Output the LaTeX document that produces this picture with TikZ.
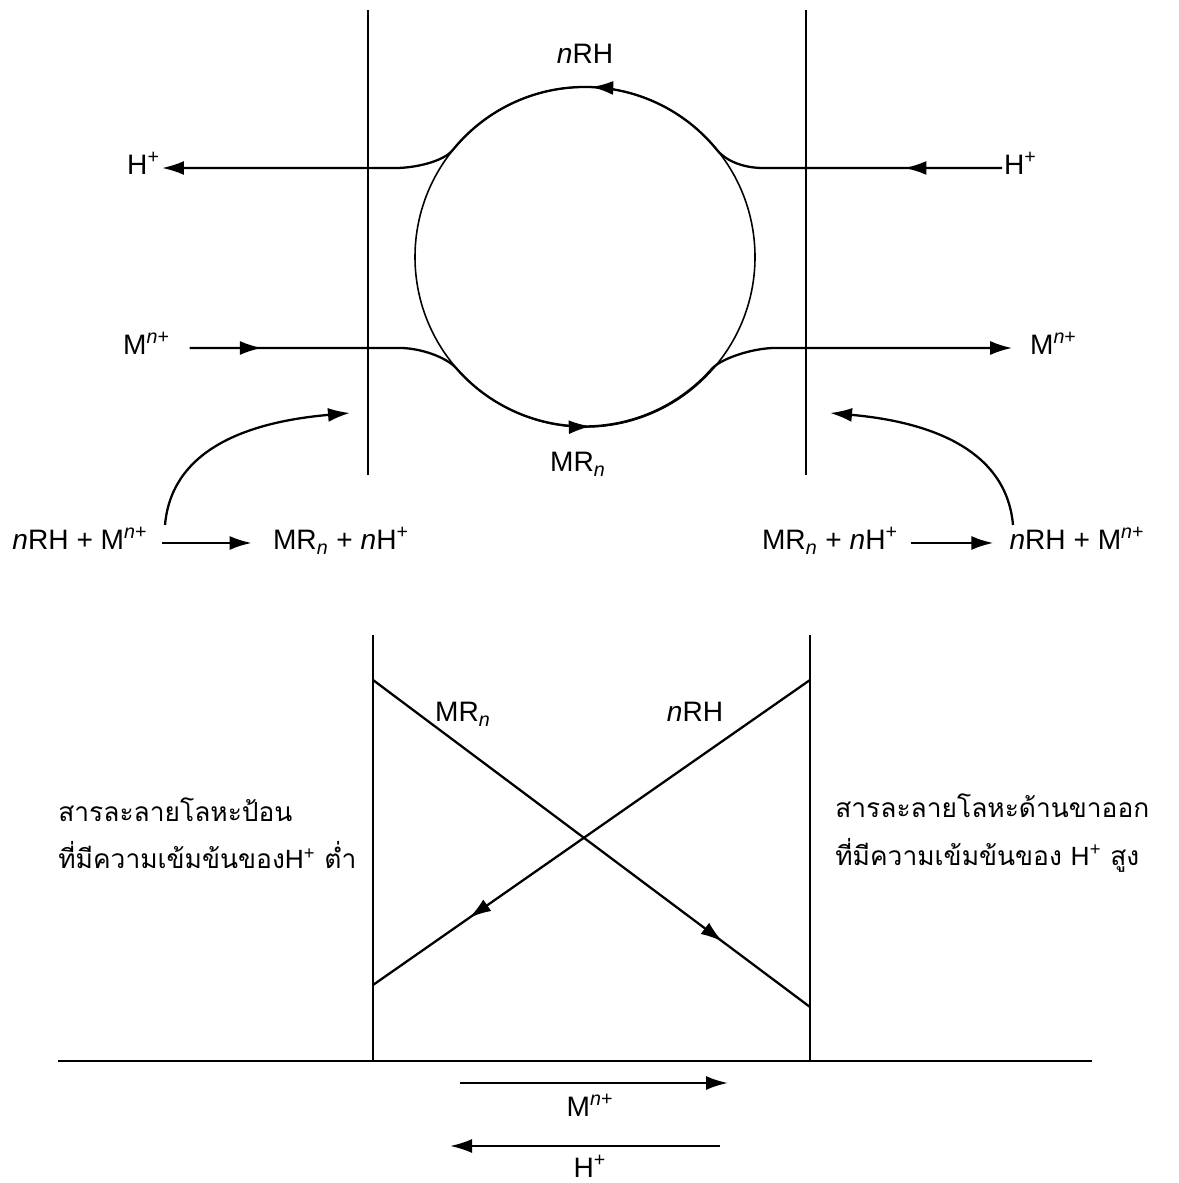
\documentclass[tikz,border=0pt]{standalone}
\usepackage{fontspec}
\setmainfont{Liberation Sans}
\newfontfamily\thaifont[Script=Thai]{Loma}
\usepackage{tikz}
\usetikzlibrary{arrows.meta, positioning, calc, decorations.markings}
\newcommand{\Mion}{M\textsuperscript{\textit{n}+}}
\newcommand{\MRn}{MR\textsubscript{\textit{n}}}
\newcommand{\Hion}{H\textsuperscript{+}}
\newcommand{\nRH}{\textit{n}RH}
\tikzset{
    membrane/.style={line width=1.5pt},
    flow/.style={line width=1.3pt},
    midarrows/.style={postaction={decorate, decoration={markings, #1}}},
    lbl/.style={font=\fontsize{16}{19}\selectfont, inner sep=1pt, text height=2.3ex, text depth=0.8ex},
    thai/.style={font=\fontsize{15}{27}\thaifont, align=left, inner sep=0pt, anchor=west}
}

\begin{document}
\begin{tikzpicture}[x=0.02cm, y=0.02cm, >={Latex[length=4.4mm,width=2.8mm]}]
    \useasboundingbox (0,0) rectangle (1179,1183);

    % upper picture
    \draw[membrane] (368,1173) -- (368,708);
    \draw[membrane] (806,1173) -- (806,708);
    \draw[line width=0.9pt] (585,926) circle[radius=170];

    \node[lbl] (rhTop) at (585,1126) {\nRH};
    \node[lbl, anchor=east] (hL) at (162,1015) {\Hion};
    \node[lbl, anchor=west] (hR) at (1002,1015) {\Hion};
    \node[lbl, anchor=east] (mL) at (172,835) {\Mion};
    \node[lbl, anchor=west] (mR) at (1028,835) {\Mion};
    \node[lbl] (mrBot) at (578,718) {\MRn};

    \draw[flow, ->, midarrows={mark=at position 0.11 with {\arrow{>}}, mark=at position 0.49 with {\arrow{>}}}]
        (hR.west) -- (763,1015) .. controls (745,1015) and (727,1021) .. (717,1033)
        arc[start angle=39, end angle=141, radius=170]
        .. controls (443,1021) and (414,1015) .. (396,1015) -- (hL.east);
    \draw[flow, ->, shorten <=10pt, shorten >=9pt, midarrows={mark=at position 0.1 with {\arrow{>}}, mark=at position 0.49 with {\arrow{>}}}]
        (mL.east) -- (400,835) .. controls (420,835) and (446,826) .. (456,815)
        arc[start angle=221, end angle=319, radius=170]
        .. controls (724,826) and (755,835) .. (775,835) -- (mR.west);

    % exchange reactions
    \node[lbl] (eqLa) at (80,640) {\nRH{} + \Mion};
    \node[lbl] (eqLb) at (341,640) {\MRn{} + \textit{n}\Hion};
    \node[lbl] (eqRa) at (830,640) {\MRn{} + \textit{n}\Hion};
    \node[lbl] (eqRb) at (1077,640) {\nRH{} + \Mion};
    \draw[flow, ->, shorten <=7pt, shorten >=11pt] (eqLa.east) -- (eqLb.west);
    \draw[flow, ->, shorten <=6pt, shorten >=8pt] (eqRa.east) -- (eqRb.west);

    \coordinate (cL) at (165,658);
    \coordinate (tL) at (350,770);
    \coordinate (cR) at (1013,658);
    \coordinate (tR) at (830,770);
    \draw[flow, ->] (cL) to[out=85, in=185] (tL);
    \draw[flow, ->] (cR) to[out=95, in=-5] (tR);

    % lower picture
    \draw[membrane] (373,548) -- (373,122);
    \draw[membrane] (810,548) -- (810,122);
    \draw[membrane] (58,122) -- (1092,122);

    \draw[flow, midarrows={mark=at position 0.8 with {\arrow{>}}}] (373,503) -- (810,176);
    \draw[flow, midarrows={mark=at position 0.78 with {\arrow{>}}}] (810,503) -- (373,198);
    \node[lbl] (mrCross) at (463,468) {\MRn};
    \node[lbl] (rhCross) at (695,468) {\nRH};

    \node[thai] (feed) at (58,350) {สารละลายโลหะป้อน\\ที่มีความเข้มข้นของ{\rmfamily\Hion} ต่ำ};
    \node[thai] (strip) at (835,350) {สารละลายโลหะด้านขาออก\\ที่มีความเข้มข้นของ {\rmfamily\Hion} สูง};

    \node[lbl] (mFlow) at (590,73) {\Mion};
    \node[lbl] (hFlow) at (590,12) {\Hion};
    \draw[flow, ->] (460,100) -- (728,100);
    \draw[flow, ->] (720,37) -- (450,37);
\end{tikzpicture}
\end{document}
